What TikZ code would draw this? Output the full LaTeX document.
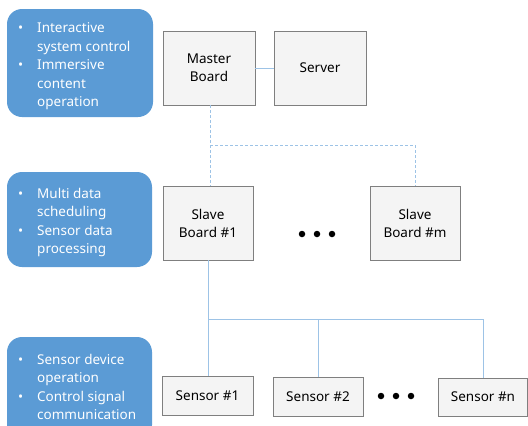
\documentclass[tikz,border=0pt]{standalone}
\usepackage{fontspec}
\setmainfont{Noto Sans}
\usetikzlibrary{positioning}
\definecolor{infoblue}{HTML}{5B9BD5}
\definecolor{linkblue}{HTML}{9DC3E6}
\definecolor{boxfill}{HTML}{F4F4F4}
\definecolor{boxline}{HTML}{7F7F7F}
\tikzset{
  infobox/.style={fill=infoblue, draw=none, rounded corners=15pt, inner sep=0pt},
  infotext/.style={text=white, font=\fontsize{13.5}{18.5}\selectfont, align=left, anchor=north west, inner sep=0pt},
  board/.style={draw=boxline, line width=0.9pt, fill=boxfill, font=\fontsize{13.5}{18}\selectfont, align=center, inner sep=0pt},
  link/.style={draw=linkblue, line width=1pt},
  dlink/.style={draw=linkblue, line width=1pt, dash pattern=on 3pt off 2pt},
  dotmark/.style={circle, fill=black, inner sep=0pt, minimum size=6.5pt}
}
\newcommand{\bul}{\hspace*{-2pt}\makebox[19pt][l]{\textbullet}}
\newcommand{\ind}{\hspace*{17pt}}
\begin{document}
\begin{tikzpicture}[x=1pt,y=-1pt]
\useasboundingbox (0,0) rectangle (528,426);
\clip (0,0) rectangle (528,426);
% info boxes
\fill[infobox] (7,9) rectangle (153,117);
\node[infotext] (t1) at (20,22.5) {\bul Interactive\\\ind system control\\\bul Immersive\\\ind content\\\ind operation};
\fill[infobox] (7,172) rectangle (152,267);
\node[infotext] (t2) at (20,188) {\bul Multi data\\\ind scheduling\\\bul Sensor data\\\ind processing};
\fill[infobox] (7,337) rectangle (152,440);
\node[infotext] (t3) at (20,354) {\bul Sensor device\\\ind operation\\\bul Control signal\\\ind communication};
% boards
\node[board, minimum width=92pt, minimum height=74pt] (master) at (209,68) {Master\\Board};
\node[board, minimum width=92pt, minimum height=74pt] (server) at (320,68) {Server};
\node[board, minimum width=90pt, minimum height=74pt] (slave1) at (208,223) {Slave\\Board \#1};
\node[board, minimum width=90pt, minimum height=74pt] (slavem) at (415,223) {Slave\\Board \#m};
\node[board, minimum width=91pt, minimum height=39pt] (s1) at (207.5,395.5) {Sensor \#1};
\node[board, minimum width=90pt, minimum height=39pt] (s2) at (318,397) {Sensor \#2};
\node[board, minimum width=89pt, minimum height=38pt] (sn) at (483,397) {Sensor \#n};
% dots
\node[dotmark] (d1) at (302,234) {};
\node[dotmark] (d2) at (317,234) {};
\node[dotmark] (d3) at (332,234) {};
\node[dotmark] (e1) at (381,396) {};
\node[dotmark] (e2) at (396,396) {};
\node[dotmark] (e3) at (411,396) {};
% connectors
\coordinate (mj) at (210,145);
\coordinate (sj) at (208,319);
\draw[link] (master.east) -- (server.west);
\draw[dlink] (master.south -| mj) -- (mj) -- (mj -| slavem.north) -- (slavem.north);
\draw[dlink] (mj) -- (mj |- slave1.north);
\draw[link] (slave1.south) -- (sj) -- (sj -| sn.north) -- (sn.north);
\draw[link] (sj) -- (sj |- s1.north);
\draw[link] (sj -| s2.north) -- (s2.north);
\end{tikzpicture}
\end{document}
